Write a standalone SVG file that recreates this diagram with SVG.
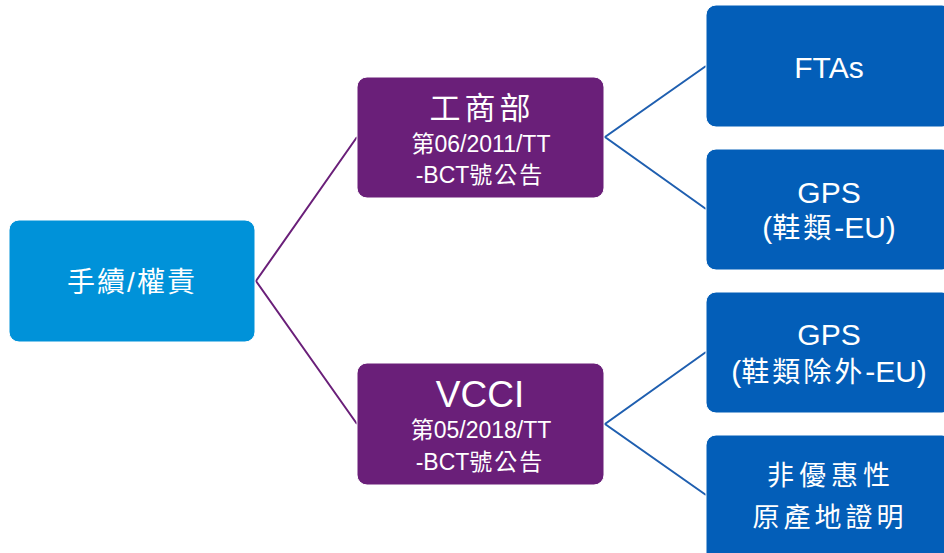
<svg xmlns="http://www.w3.org/2000/svg" width="944" height="553" viewBox="0 0 944 553">
<style>
text{font-family:"Liberation Sans","Noto Sans CJK TC",sans-serif;fill:#fff;text-anchor:middle}
.root{fill:#0092D9;stroke:#fff;stroke-width:1}
.mid{fill:#6A1F79;stroke:#fff;stroke-width:1}
.leaf{fill:#035EB8;stroke:#fff;stroke-width:1}
.cp{stroke:#6A1F79;stroke-width:2;fill:none}
.cb{stroke:#1F5FB0;stroke-width:2;fill:none}
.sub{font-size:23px}
</style>
<rect width="944" height="553" fill="#fff"/>
<g id="connectors">
<polyline class="cp" points="357,137 256,281 357,424"/>
<polyline class="cb" points="706,66 605,137 706,209"/>
<polyline class="cb" points="706,352 605,424 706,495"/>
</g>
<g id="root">
<rect class="root" x="9" y="220" width="246" height="122" rx="10"/>
<text x="132" y="292" font-size="28" letter-spacing="2">手續/權責</text>
</g>
<g id="moit">
<rect class="mid" x="357" y="77" width="247" height="121" rx="10"/>
<text x="482" y="119" font-size="31" letter-spacing="4">工商部</text>
<text class="sub" x="481" y="152">第06/2011/TT</text>
<text class="sub" x="480" y="183"><tspan>-BCT</tspan><tspan letter-spacing="2">號公告</tspan></text>
</g>
<g id="vcci">
<rect class="mid" x="357" y="363" width="247" height="122" rx="10"/>
<text x="480" y="407" font-size="37">VCCI</text>
<text class="sub" x="481" y="438">第05/2018/TT</text>
<text class="sub" x="480" y="470"><tspan>-BCT</tspan><tspan letter-spacing="2">號公告</tspan></text>
</g>
<g id="ftas">
<rect class="leaf" x="706" y="5" width="246" height="122" rx="10"/>
<text x="829" y="78" font-size="30">FTAs</text>
</g>
<g id="gps-eu">
<rect class="leaf" x="706" y="149" width="246" height="121" rx="10"/>
<text x="829" y="203" font-size="30">GPS</text>
<text x="829" y="238" font-size="30">(<tspan font-size="28" letter-spacing="3">鞋類</tspan>-EU)</text>
</g>
<g id="gps-non-eu">
<rect class="leaf" x="706" y="292" width="246" height="121" rx="10"/>
<text x="829" y="345" font-size="30">GPS</text>
<text x="829" y="382" font-size="30">(<tspan font-size="28" letter-spacing="3">鞋類除外</tspan>-EU)</text>
</g>
<g id="non-pref">
<rect class="leaf" x="706" y="435" width="246" height="130" rx="10"/>
<text x="831" y="485" font-size="27" letter-spacing="5">非優惠性</text>
<text x="830" y="527" font-size="27" letter-spacing="4">原產地證明</text>
</g>
</svg>
